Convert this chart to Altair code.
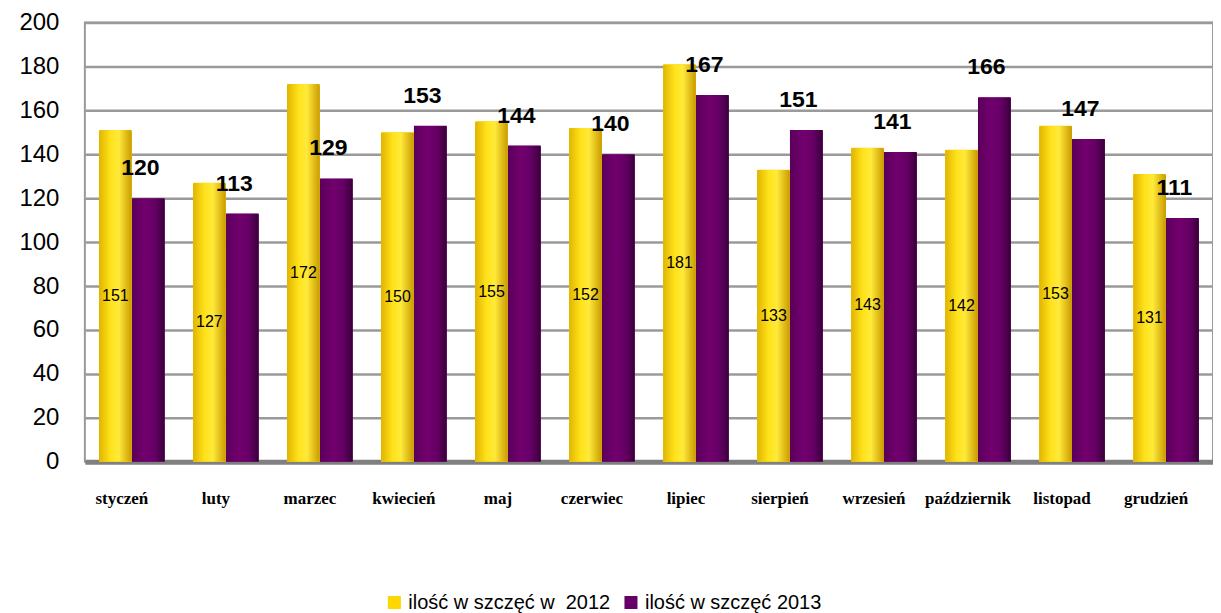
import altair as alt
import pandas as pd

months = ["styczeń", "luty", "marzec", "kwiecień", "maj", "czerwiec", "lipiec",
          "sierpień", "wrzesień", "październik", "listopad", "grudzień"]
v2012 = [151, 127, 172, 150, 155, 152, 181, 133, 143, 142, 153, 131]
v2013 = [120, 113, 129, 153, 144, 140, 167, 151, 141, 166, 147, 111]
series = ["ilość w szczęć w\u00a0 2012", "ilość w szczęć 2013"]
colors = ["#FFD700", "#660066"]

rows = []
for m, a, b in zip(months, v2012, v2013):
    rows.append({"month": m, "series": series[0], "value": a})
    rows.append({"month": m, "series": series[1], "value": b})
df = pd.DataFrame(rows)

x = alt.X("month:N", sort=months, title=None,
          scale=alt.Scale(paddingInner=0.3, paddingOuter=0.15),
          axis=alt.Axis(labelAngle=0, labelFont="Liberation Serif", labelFontWeight="bold",
                        labelFontSize=17, labelPadding=29, ticks=False, labelOffset=-10,
                        domainColor="#808080", domainWidth=5, labelColor="#000"))
xo = alt.XOffset("series:N", sort=series)
y = alt.Y("value:Q", title=None,
          scale=alt.Scale(domain=[0, 200]),
          axis=alt.Axis(values=list(range(0, 201, 20)), ticks=False, labelFontSize=24,
                        labelFont="Liberation Sans", labelPadding=26, labelColor="#000",
                        gridColor="#9a9a9a", gridWidth=2.5, domain=False))

base = alt.Chart(df)

legend_bars = base.mark_bar().encode(
    x=x, xOffset=xo, y=y,
    color=alt.Color("series:N", sort=series, scale=alt.Scale(domain=series, range=colors),
                    legend=alt.Legend(title=None, orient="none", legendX=300, legendY=571,
                                      direction="horizontal", symbolType="square",
                                      symbolSize=170, labelFontSize=20, labelLimit=0,
                                      labelFont="Liberation Sans", labelColor="#000",
                                      columnPadding=10, symbolStrokeWidth=0)),
)

yellow_grad = alt.Gradient(gradient="linear", x1=0, x2=1, y1=0, y2=0,
                           stops=[alt.GradientStop(color="#E0B400", offset=0),
                                  alt.GradientStop(color="#FFE21A", offset=0.35),
                                  alt.GradientStop(color="#FFEA3A", offset=0.6),
                                  alt.GradientStop(color="#C99A00", offset=1)])
purple_grad = alt.Gradient(gradient="linear", x1=0, x2=1, y1=0, y2=0,
                           stops=[alt.GradientStop(color="#5A005A", offset=0),
                                  alt.GradientStop(color="#72006E", offset=0.4),
                                  alt.GradientStop(color="#650065", offset=0.7),
                                  alt.GradientStop(color="#3A003A", offset=1)])

bars12 = base.transform_filter(alt.datum.series == series[0]).mark_bar(
    color=yellow_grad, cornerRadiusTopLeft=2, cornerRadiusTopRight=2
).encode(x=x, xOffset=xo, y=y)
bars13 = base.transform_filter(alt.datum.series == series[1]).mark_bar(
    color=purple_grad, cornerRadiusTopLeft=2, cornerRadiusTopRight=2
).encode(x=x, xOffset=xo, y=y)

text12 = base.transform_filter(alt.datum.series == series[0]).transform_calculate(
    mid="datum.value / 2"
).mark_text(fontSize=16, font="Liberation Sans", color="#000").encode(
    x=x, xOffset=xo, y=alt.Y("mid:Q"), text="value:Q")

text13 = base.transform_filter(alt.datum.series == series[1]).mark_text(
    fontSize=23, font="Liberation Sans", fontWeight="bold", color="#000", dx=-8, dy=-30
).encode(x=x, xOffset=xo, y=y, text="value:Q")

chart = alt.layer(legend_bars, bars12, bars13, text12, text13).properties(
    width=1130, height=440,
    padding={"top": 2, "left": 10, "right": 0, "bottom": 0},
).configure_view(stroke="#9a9a9a", strokeWidth=2)

chart.save("out.html", embed_options={"renderer": "svg", "actions": False})
